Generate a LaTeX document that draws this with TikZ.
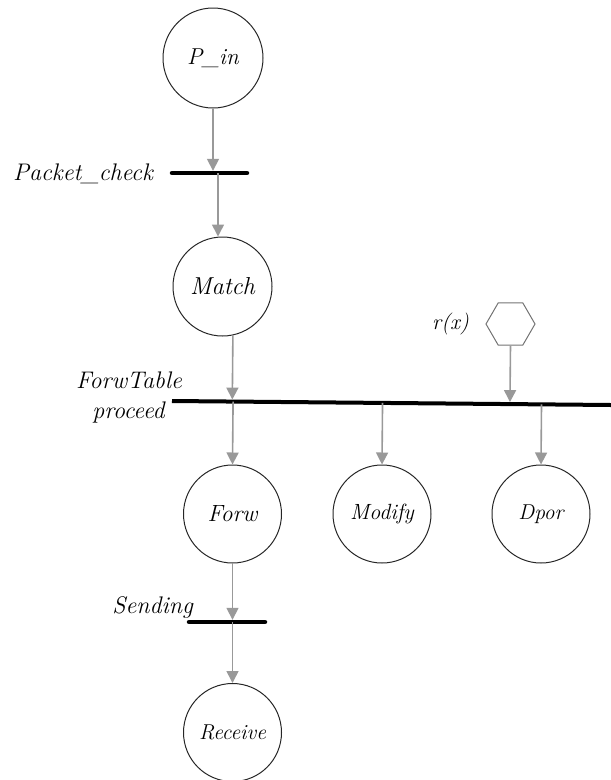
\documentclass[tikz,border=0pt]{standalone}
\usetikzlibrary{arrows.meta,shapes.geometric,calc}
\newcommand\setfs[1]{\fontsize{#1}{#1}\selectfont}
\begin{document}
\begin{tikzpicture}[x=1pt,y=-1pt,
  place/.style={circle,draw=black!85,line width=1pt,minimum size=98pt,inner sep=0pt,font=\itshape},
  flow/.style={draw=black!40,line width=1.6pt,-{Triangle[length=12pt,width=12pt]}},
  tbar/.style={line width=4.5pt,line cap=round},
  wbar/.style={line width=4pt},
  lbl/.style={font=\itshape,inner sep=0pt}]
\useasboundingbox (0,0) rectangle (611,780);

% places
\node[place,minimum size=100pt] (pin)   at (213,58)      {\setfs{23}P\_in};
\node[place,minimum size=99pt]  (match) at (222.5,286.5) {\setfs{24.5}Match};
\node[place] (forw)    at (232.5,514)   {\setfs{23.5}Forw};
\node[place] (modify)  at (382,514)     {\setfs{22}Modify};
\node[place] (dpor)    at (541,514)     {\setfs{21.5}Dpor};
\node[place] (receive) at (232.5,732.5) {\setfs{21.5}Receive};

% rule input
\node[regular polygon,regular polygon sides=6,draw=black!55,line width=1pt,
      minimum size=49pt,inner sep=0pt] (rx) at (510.5,324) {};
\node[lbl,anchor=east] (rxl) at (469,324) {\setfs{22}r(x)};

% transitions
\coordinate (pcL) at (172,173);
\coordinate (pcR) at (247,173);
\coordinate (pcA) at (218,173);
\draw[tbar] (pcL) -- (pcR);
\node[lbl,anchor=base east] (pcl) at (153,180) {\setfs{24}Packet\_check};

\coordinate (ftL) at (172,401);
\coordinate (ftR) at (611,405);
\draw[wbar] (ftL) -- (ftR);
\node[lbl,anchor=base] (ftl1) at (129,388) {\setfs{24}ForwTable};
\node[lbl,anchor=base] (ftl2) at (128.5,418) {\setfs{24}proceed};

\coordinate (sdL) at (189,622);
\coordinate (sdR) at (265,622);
\draw[tbar] (sdL) -- (sdR);
\node[lbl,anchor=base east] (sdl) at (193,613) {\setfs{24}Sending};

% arcs
\draw[flow,shorten >=2.2pt] (pin.south) -- (pin.south |- pcL);
\draw[flow] (pcA) -- (pcA |- match.north);

\draw[flow,shorten >=2pt] (match.-78) -- ($(ftL)!(match.-78)!(ftR)$);
\draw[flow,shorten >=2pt] (rx.south) -- ($(ftL)!(rx.south)!(ftR)$);

\draw[flow] ($(ftL)!(forw.north)!(ftR)$) -- (forw.north);
\draw[flow] ($(ftL)!(modify.north)!(ftR)$) -- (modify.north);
\draw[flow] ($(ftL)!(dpor.north)!(ftR)$) -- (dpor.north);

\draw[flow,shorten >=2.2pt] (forw.south) -- (forw.south |- sdL);
\draw[flow] (forw.south |- sdL) -- (receive.north);
\end{tikzpicture}
\end{document}
